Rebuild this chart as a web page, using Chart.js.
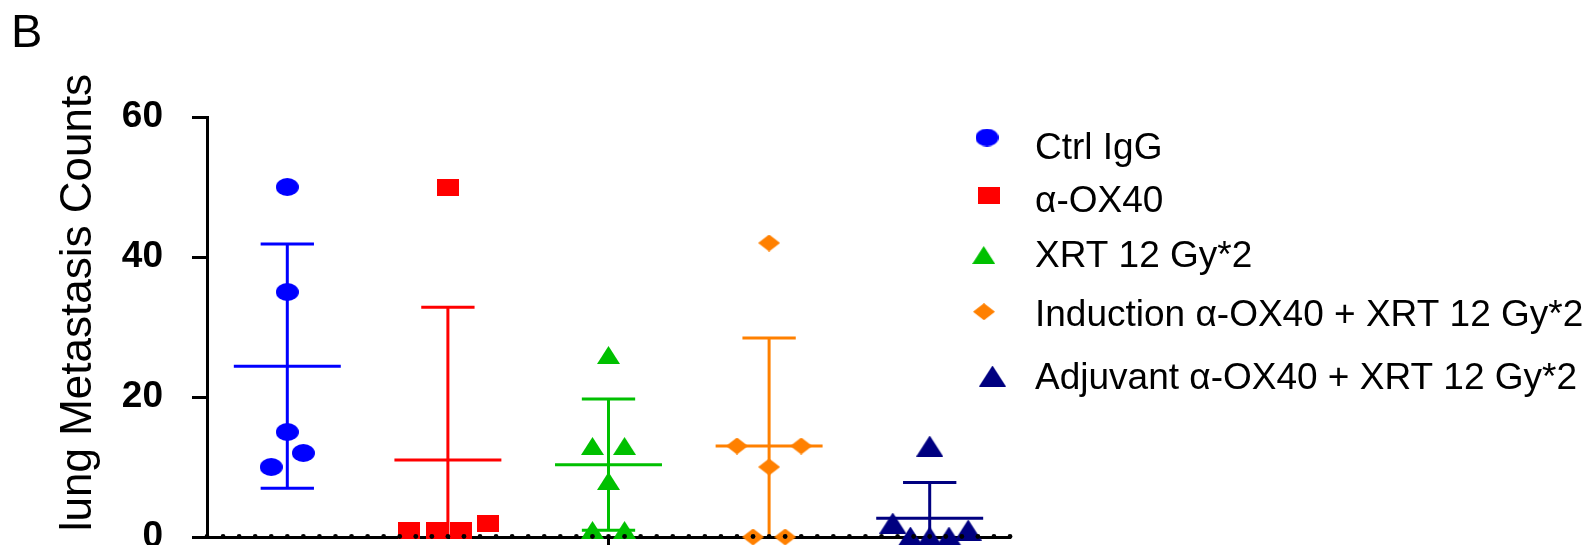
<!DOCTYPE html>
<html>
<head>
<meta charset="utf-8">
<script src="https://cdn.jsdelivr.net/npm/chart.js@4"></script>
<style>
  body { margin: 0; background: #fff; }
  canvas { display: block; }
</style>
</head>
<body>
<canvas id="grafica" width="1593" height="545"></canvas>
<script>
const groups = ['Ctrl IgG', 'α-OX40', 'XRT 12 Gy*2', 'Induction α-OX40 + XRT 12 Gy*2', 'Adjuvant α-OX40 + XRT 12 Gy*2'];
const colors = ['#0000ff', '#ff0000', '#00c000', '#ff8000', '#000080'];

// values per group, and the horizontal scatter (in category units) of each point
const ctrlIgG = [50, 35, 15, 12, 10];
const ctrlIgGJitter = [0, 0, 0, 0.1, -0.1];
const aOX40 = [50, 1, 1, 1, 2];
const aOX40Jitter = [0, -0.24, -0.07, 0.08, 0.25];
const xrt = [26, 13, 13, 8, 1, 1];
const xrtJitter = [0, -0.1, 0.1, 0, -0.1, 0.1];
const induction = [42, 13, 13, 10, 0, 0];
const inductionJitter = [0, -0.2, 0.2, 0, -0.1, 0.1];
const adjuvant = [13, 2, 0, 0, 0, 1];
const adjuvantJitter = [0, -0.23, -0.12, 0, 0.12, 0.24];

const yTicks = [0, 20, 40, 60];

const values = [ctrlIgG, aOX40, xrt, induction, adjuvant];
const jitters = [ctrlIgGJitter, aOX40Jitter, xrtJitter, inductionJitter, adjuvantJitter];

const FONT = "'Liberation Sans', Arial, sans-serif";

// marker shapes are a bit wider than tall, like in the original figure
function marker(shape, color, w, h) {
  const c = document.createElement('canvas');
  c.width = w; c.height = h;
  const g = c.getContext('2d');
  g.fillStyle = color;
  g.beginPath();
  if (shape === 'circle') {
    g.ellipse(w / 2, h / 2, w / 2, h / 2, 0, 0, Math.PI * 2);
  } else if (shape === 'rect') {
    g.rect(0, 0, w, h);
  } else if (shape === 'diamond') {
    g.moveTo(w / 2, 0); g.lineTo(w, h / 2); g.lineTo(w / 2, h); g.lineTo(0, h / 2);
  } else {
    g.moveTo(w / 2, 0); g.lineTo(w, h); g.lineTo(0, h);
  }
  g.closePath();
  g.fill();
  return c;
}

const markers = [
  marker('circle', colors[0], 23, 18),
  marker('rect', colors[1], 22, 17),
  marker('triangle', colors[2], 23, 18),
  marker('diamond', colors[3], 22, 17),
  marker('triangle', colors[4], 27, 21)
];

function mean(a) { return a.reduce((s, v) => s + v, 0) / a.length; }
function sd(a) {
  const m = mean(a);
  return Math.sqrt(a.reduce((s, v) => s + (v - m) * (v - m), 0) / (a.length - 1));
}

const datasets = [];

// mean line with SD whiskers for each group
values.forEach((vals, i) => {
  const c = i + 1, m = mean(vals), s = sd(vals);
  const halfMean = 0.333, halfCap = 0.166;
  datasets.push({
    data: [
      { x: c - halfMean, y: m }, { x: c + halfMean, y: m }, { x: c, y: null },
      { x: c - halfCap, y: m + s }, { x: c + halfCap, y: m + s }, { x: c, y: null },
      { x: c, y: m + s }, { x: c, y: m - s }, { x: c, y: null },
      { x: c - halfCap, y: m - s }, { x: c + halfCap, y: m - s }
    ],
    showLine: true,
    spanGaps: false,
    borderColor: colors[i],
    borderWidth: 3,
    borderCapStyle: 'butt',
    pointRadius: 0
  });
});

// the individual animals
values.forEach((vals, i) => {
  datasets.push({
    label: groups[i],
    data: vals.map((v, j) => ({ x: i + 1 + jitters[i][j], y: v })),
    pointStyle: markers[i],
    backgroundColor: colors[i],
    borderColor: colors[i],
    showLine: false,
    clip: false
  });
});

const extras = {
  id: 'extras',
  afterDraw(chart) {
    const ctx = chart.ctx;
    const xs = chart.scales.x;
    const bottom = chart.chartArea.bottom;
    ctx.save();
    // small dots along the x axis
    ctx.fillStyle = '#000';
    xs.ticks.forEach(t => {
      ctx.beginPath();
      ctx.arc(xs.getPixelForValue(t.value), bottom - 0.5, 2.4, 0, Math.PI * 2);
      ctx.fill();
    });
    // panel letter
    ctx.font = '47px ' + FONT;
    ctx.textBaseline = 'alphabetic';
    ctx.fillText('B', 11, 46.7);
    // legend
    const mk = [[987, 137.5], [989, 195.5], [983.7, 255], [984, 311.7], [992.5, 376]];
    const ty = [146, 199, 254, 313, 376];
    ctx.font = '37px ' + FONT;
    groups.forEach((g, i) => {
      const img = markers[i];
      ctx.drawImage(img, mk[i][0] - img.width / 2, mk[i][1] - img.height / 2);
      ctx.fillText(g, 1035, ty[i] + 0.358 * 37);
    });
    ctx.restore();
  }
};

new Chart(document.getElementById('grafica'), {
  type: 'scatter',
  data: { datasets },
  plugins: [extras],
  options: {
    responsive: false,
    animation: false,
    events: [],
    layout: { padding: { top: 117, right: 583, left: 0, bottom: 0 } },
    plugins: {
      legend: { display: false },
      tooltip: { enabled: false }
    },
    scales: {
      x: {
        type: 'linear',
        min: 0.5,
        max: 5.5,
        afterFit: s => { s.height = 8; s.paddingLeft = 0; s.paddingRight = 0; },
        border: { color: '#000', width: 3 },
        grid: {
          drawOnChartArea: false,
          drawTicks: true,
          tickLength: 9,
          tickWidth: 3,
          tickColor: c => Math.abs(c.tick.value - 3) < 1e-6 ? '#000' : 'rgba(0,0,0,0)'
        },
        ticks: { display: false, stepSize: 0.1, maxTicksLimit: 100 }
      },
      y: {
        min: 0,
        max: 60,
        afterFit: s => { s.width = 207; s.paddingTop = 0; s.paddingBottom = 0; },
        afterBuildTicks: s => { s.ticks = yTicks.map(v => ({ value: v })); },
        border: { color: '#000', width: 3 },
        grid: { drawOnChartArea: false, tickLength: 15, tickWidth: 3, tickColor: '#000' },
        ticks: {
          color: '#000',
          padding: 29,
          font: { family: FONT, size: 37, weight: 'bold', lineHeight: 0.4 }
        },
        title: {
          display: true,
          text: '    lung Metastasis Counts',
          color: '#000',
          font: { family: FONT, size: 44 },
          padding: { top: 52, bottom: 0 }
        }
      }
    }
  }
});
</script>
</body>
</html>
